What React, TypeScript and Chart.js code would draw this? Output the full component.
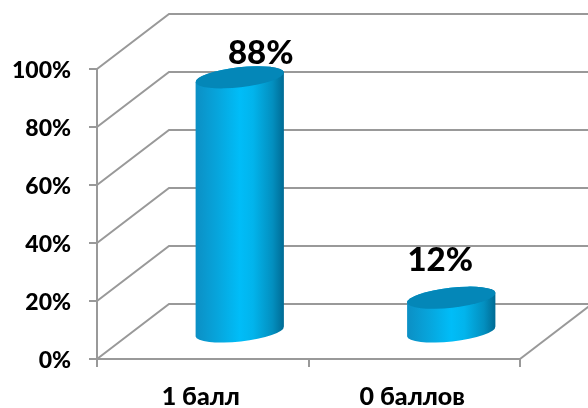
import React, { useEffect, useRef } from "react";
import { Chart, registerables } from "chart.js";

Chart.register(...registerables);

const categories = ["1 балл", "0 баллов"];
const shares = [88, 12];
const valueTicks = [0, 20, 40, 60, 80, 100];

const GRID = "#999999";
const FONT = "Lato, 'Noto Sans', sans-serif";
const DEPTH_X = 72;
const DEPTH_Y = 55;
const TILT = (-6.4 * Math.PI) / 180;
const LABEL_SHIFT = [
  { x: 58, y: -50 },
  { x: 26, y: -64 },
];

const wallPlugin = {
  id: "wall",
  beforeDatasetsDraw(chart: any) {
    const { ctx, scales } = chart;
    const y = scales.y;
    const left = scales.x.left;
    const right = scales.x.right;
    ctx.save();
    ctx.strokeStyle = GRID;
    ctx.lineWidth = 2;
    ctx.lineJoin = "miter";
    valueTicks.forEach((v) => {
      const py = y.getPixelForValue(v);
      ctx.beginPath();
      ctx.moveTo(left, py);
      ctx.lineTo(left + DEPTH_X, py - DEPTH_Y);
      ctx.lineTo(right + DEPTH_X, py - DEPTH_Y);
      ctx.stroke();
    });
    const py0 = y.getPixelForValue(0);
    ctx.beginPath();
    ctx.moveTo(right, py0);
    ctx.lineTo(right + DEPTH_X, py0 - DEPTH_Y);
    ctx.stroke();
    ctx.restore();
  },
};

const cylinderPlugin = {
  id: "cylinder",
  beforeDatasetDraw(chart: any, args: any) {
    const { ctx } = chart;
    const meta = chart.getDatasetMeta(args.index);
    meta.data.forEach((bar: any) => {
      const { x, y, base, width } = bar.getProps(["x", "y", "base", "width"], true);
      const cx = x + DEPTH_X / 2 + 1;
      const topY = y - DEPTH_Y / 2 + 1;
      const botY = base - DEPTH_Y / 2 + 1;
      const a = width / 2;
      const b = a * 0.225;
      const grad = ctx.createLinearGradient(cx - a, 0, cx + a, 0);
      grad.addColorStop(0, "#0C8FC4");
      grad.addColorStop(0.25, "#07A5DC");
      grad.addColorStop(0.5, "#00BDF8");
      grad.addColorStop(0.65, "#02B4EC");
      grad.addColorStop(0.87, "#038FBF");
      grad.addColorStop(1, "#006A93");
      ctx.save();
      ctx.beginPath();
      ctx.ellipse(cx, botY, a, b, TILT, Math.PI, 0, true);
      ctx.ellipse(cx, topY, a, b, TILT, 0, Math.PI, true);
      ctx.closePath();
      ctx.fillStyle = grad;
      ctx.fill();
      ctx.beginPath();
      ctx.ellipse(cx, topY, a, b, TILT, 0, Math.PI * 2);
      ctx.fillStyle = "#0487B8";
      ctx.fill();
      ctx.restore();
    });
    return false;
  },
  afterDatasetsDraw(chart: any) {
    const { ctx } = chart;
    const meta = chart.getDatasetMeta(0);
    ctx.save();
    ctx.fillStyle = "#000000";
    ctx.font = `900 33px ${FONT}`;
    ctx.textAlign = "center";
    ctx.textBaseline = "middle";
    meta.data.forEach((bar: any, i: number) => {
      const { x, y } = bar.getProps(["x", "y"], true);
      ctx.fillText(`${shares[i]}%`, x + LABEL_SHIFT[i].x, y + LABEL_SHIFT[i].y);
    });
    ctx.restore();
  },
};

export default function App() {
  const ref = useRef<HTMLCanvasElement | null>(null);
  useEffect(() => {
    document.body.style.margin = "0";
    const chart = new Chart(ref.current as HTMLCanvasElement, {
      type: "bar",
      data: {
        labels: categories,
        datasets: [
          {
            label: "Доля",
            data: shares,
            backgroundColor: "#00BDF8",
            barPercentage: 0.42,
            categoryPercentage: 1,
          },
        ],
      },
      options: {
        animation: false,
        responsive: false,
        devicePixelRatio: 1,
        layout: { padding: { top: 69, right: 68, left: 0, bottom: 0 } },
        plugins: { legend: { display: false }, tooltip: { enabled: false } },
        scales: {
          x: {
            afterFit: (s: any) => {
              s.height = 49;
            },
            grid: {
              drawOnChartArea: false,
              drawTicks: true,
              tickLength: 8,
              color: GRID,
              lineWidth: 2,
            },
            border: { color: GRID, width: 2 },
            ticks: {
              color: "#000000",
              padding: 15,
              labelOffset: -2,
              maxRotation: 0,
              font: { family: FONT, weight: 900, size: 25 },
            },
          },
          y: {
            min: 0,
            max: 100,
            afterFit: (s: any) => {
              s.width = 97;
            },
            grid: {
              drawOnChartArea: false,
              drawTicks: true,
              tickLength: 8,
              color: GRID,
              lineWidth: 2,
            },
            border: { color: GRID, width: 2 },
            ticks: {
              color: "#000000",
              stepSize: 20,
              padding: 18,
              labelOffset: 2,
              callback: (v: any) => `${v}%`,
              font: { family: FONT, weight: 900, size: 23 },
            },
          },
        },
      },
      plugins: [wallPlugin, cylinderPlugin],
    } as any);
    return () => chart.destroy();
  }, []);
  return (
    <div style={{ width: 588, height: 408, background: "#ffffff" }}>
      <canvas ref={ref} width={588} height={408} style={{ display: "block" }} />
    </div>
  );
}
